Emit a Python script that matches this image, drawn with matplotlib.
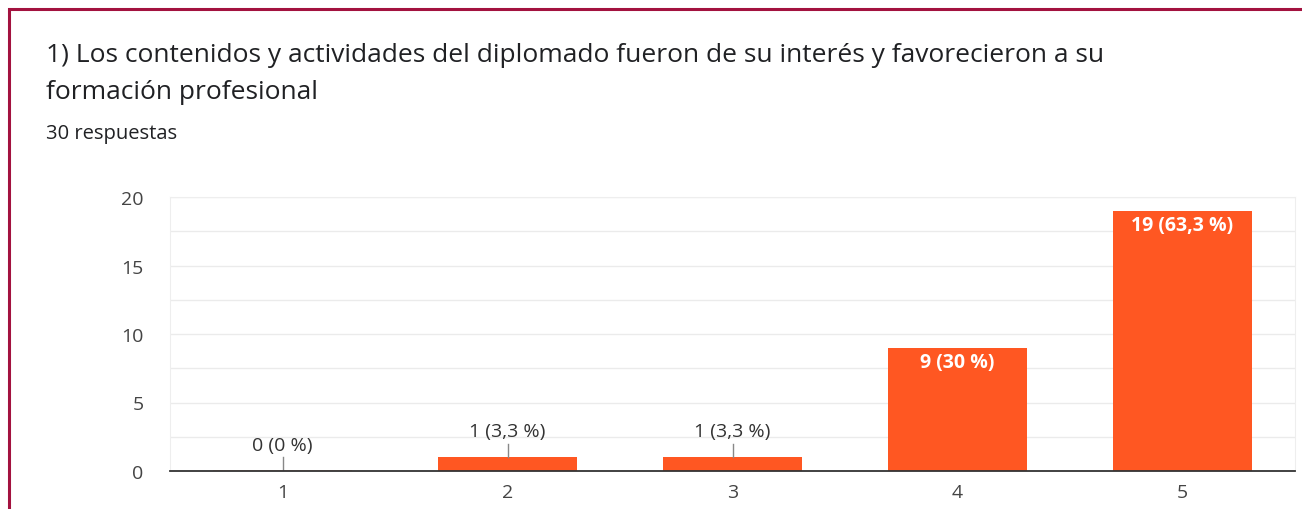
import matplotlib.pyplot as plt
from matplotlib.patches import Rectangle

# datos
opciones = ["1", "2", "3", "4", "5"]
respuestas = [0, 1, 1, 9, 19]
porcentajes = ["0 %", "3,3 %", "3,3 %", "30 %", "63,3 %"]
titulo = ["1) Los contenidos y actividades del diplomado fueron de su interés y favorecieron a su",
          "formación profesional"]
subtitulo = "30 respuestas"

naranja = "#FF5722"
plt.rcParams['font.family'] = ['Open Sans', 'DejaVu Sans']

fig = plt.figure(figsize=(13.02, 5.10), dpi=100)

# marco rojo oscuro (solo arriba e izquierda visibles)
fig.patches.append(Rectangle((9 / 1302, -0.1), 1.2, (510 - 9) / 510 + 0.1 - 0.002,
                             transform=fig.transFigure, fill=False,
                             edgecolor="#A3123F", linewidth=2.2))

fig.text(46 / 1302, 1 - 62 / 510, titulo[0], fontsize=19, color="#202124",
         va="baseline", ha="left")
fig.text(46 / 1302, 1 - 99 / 510, titulo[1], fontsize=19, color="#202124",
         va="baseline", ha="left")
fig.text(46 / 1302, 1 - 139 / 510, subtitulo, fontsize=14.5, color="#202124",
         va="baseline", ha="left")

ax = fig.add_axes([170 / 1302, (510 - 472) / 510, 1125 / 1302, 274 / 510])
x = range(len(opciones))
barras = ax.bar(x, respuestas, width=0.62, color=naranja, zorder=3)
# la barra de 0 deja una linea tenue
ax.bar([0], [0.08], width=0.62, color="#FBC9B8", zorder=2)

ax.set_xlim(-0.5, 4.5)
ax.set_ylim(0, 20)
ax.set_yticks([0, 5, 10, 15, 20])
ax.set_yticks([2.5, 7.5, 12.5, 17.5], minor=True)
ax.set_xticks(list(x))
ax.set_xticklabels(opciones)
ax.grid(axis="y", which="both", color="#EBEBEB", linewidth=1, zorder=0)
ax.tick_params(axis="both", which="both", length=0, labelsize=14, colors="#444444")
ax.tick_params(axis="y", pad=19)
ax.tick_params(axis="x", pad=9)
for lado in ["left", "right", "top"]:
    ax.spines[lado].set_color("#EEEEEE")
ax.spines["bottom"].set_color("#333333")
ax.spines["bottom"].set_linewidth(1.3)
ax.spines["bottom"].set_zorder(4)

for i, (v, p) in enumerate(zip(respuestas, porcentajes)):
    etiqueta = f"{v} ({p})"
    if v < 3:
        ax.plot([i, i], [v, v + 1.0], color="#888888", linewidth=1, zorder=4)
        ax.text(i, v + 1.25, etiqueta, ha="center", va="bottom", fontsize=14,
                color="#333333", zorder=5)
    else:
        ax.text(i, v - 0.3, etiqueta, ha="center", va="top", fontsize=14,
                color="white", fontweight="bold", zorder=5)

fig.savefig("out.png", dpi=100)
